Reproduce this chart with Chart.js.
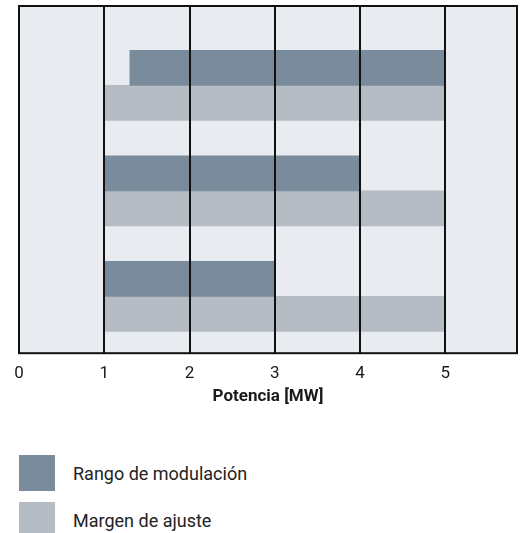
<!DOCTYPE html>
<html>
<head>
<meta charset="utf-8">
<script src="https://cdn.jsdelivr.net/npm/chart.js@4/dist/chart.umd.min.js"></script>
<style>
  body { margin:0; background:#fff; width:520px; height:533px; overflow:hidden; position:relative; }
  #caja { position:absolute; left:0; top:0; width:520px; height:420px; }
  #leyenda { position:absolute; left:19px; top:455px; font-family:Roboto,sans-serif; font-size:18px; color:#222; }
  .item { display:flex; align-items:center; height:36px; margin-bottom:11px; }
  .cuadro { width:36px; height:36px; margin-right:18px; }
</style>
</head>
<body>
<div id="caja"><canvas id="grafico"></canvas></div>
<div id="leyenda"></div>
<script>
// filas (de arriba a abajo) y valores en MW
let filas = [0, 1, 2];
let rangoInicio = [1.3, 1, 1];
let rangoFin = [5, 4, 3];
let margenInicio = [1, 1, 1];
let margenFin = [5, 5, 5];
let ticksX = [0, 1, 2, 3, 4, 5];
let nombres = ["Rango de modulación", "Margen de ajuste"];
let colores = ["#7a8b9c", "#b5bcc4"];

let fuente = "Roboto, sans-serif";

function datosBarra(inicio, fin)
{
  let d = [];
  for (i = 0; i < filas.length; i++)
    d.push({ x: [inicio[i], fin[i]], y: filas[i] });
  return d;
}

// fondo y marco del area del grafico
let marco = {
  id: "marco",
  beforeDraw(chart) {
    let a = chart.chartArea, c = chart.ctx;
    c.save();
    c.fillStyle = "#e8ebf0";
    c.fillRect(a.left, a.top, a.right - a.left, a.bottom - a.top);
    c.restore();
  },
  afterDraw(chart) {
    let a = chart.chartArea, c = chart.ctx;
    c.save();
    c.strokeStyle = "#111";
    c.lineWidth = 2;
    c.strokeRect(a.left, a.top, a.right - a.left, a.bottom - a.top);
    c.restore();
  }
};

let grafico = new Chart(document.getElementById("grafico"), {
  type: "bar",
  data: {
    datasets: [
      { label: nombres[0], data: datosBarra(rangoInicio, rangoFin), backgroundColor: colores[0], barThickness: 35 },
      { label: nombres[1], data: datosBarra(margenInicio, margenFin), backgroundColor: colores[1], barThickness: 35 }
    ]
  },
  options: {
    indexAxis: "y",
    maintainAspectRatio: false,
    animation: false,
    layout: { padding: { left: 19, right: 3, top: 6, bottom: 9 } },
    plugins: { legend: { display: false }, tooltip: { enabled: false } },
    scales: {
      x: {
        type: "linear",
        min: 0,
        max: 5.84,
        afterBuildTicks: function(axis) { axis.ticks = ticksX.map(v => ({ value: v })); },
        grid: { color: "#111", lineWidth: 2, drawTicks: false, z: 1 },
        border: { display: false },
        ticks: { color: "#1a1a1a", padding: 10, font: { family: fuente, size: 17 } },
        title: { display: true, text: "Potencia [MW]", color: "#1a1a1a", padding: { top: -7, bottom: 4 }, font: { family: fuente, size: 17, weight: "bold" } }
      },
      y: {
        type: "linear",
        display: false,
        offset: false,
        grid: { offset: false },
        reverse: true,
        min: -0.752,
        max: 2.539
      }
    }
  },
  plugins: [marco]
});

// leyenda en HTML a partir de los datasets
let ley = document.getElementById("leyenda");
grafico.data.datasets.forEach(function(ds) {
  let fila = document.createElement("div");
  fila.className = "item";
  let cuadro = document.createElement("div");
  cuadro.className = "cuadro";
  cuadro.style.background = ds.backgroundColor;
  let texto = document.createElement("span");
  texto.textContent = ds.label;
  fila.appendChild(cuadro);
  fila.appendChild(texto);
  ley.appendChild(fila);
});
</script>
</body>
</html>
